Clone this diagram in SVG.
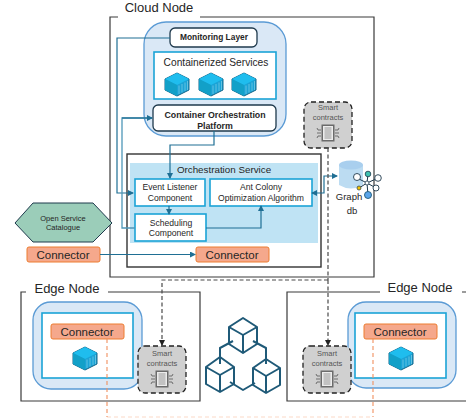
<svg xmlns="http://www.w3.org/2000/svg" width="466" height="418" viewBox="0 0 466 418">
<style>
text{font-family:"Liberation Sans",Arial,sans-serif;fill:#262626;text-anchor:middle}
.frame{fill:none;stroke:#3a3a3a;stroke-width:1.2}
.title{font-size:13px}
.halo{fill:#dae8f6;stroke:#5b9bd5;stroke-width:1.3}
.svc{fill:#fff;stroke:#1ba3d6;stroke-width:1.6}
.blk{fill:#fff;stroke:#1f3a4d;stroke-width:1.3}
.b{font-size:8.800px;font-weight:bold}
.s{font-size:8.600px}
.conn{fill:#f5a88c;stroke:#ed7d31;stroke-width:1}
.ct{font-size:11.500px}
.sc{fill:#d0d0d0;stroke:#222;stroke-width:1.3;stroke-dasharray:5 3}
.st{font-size:7.500px;fill:#555}
.wire{fill:none;stroke:#1f6f94;stroke-width:1.2}
.wire2{fill:none;stroke:#4f97b8;stroke-width:1.3}
.dash{fill:none;stroke:#4a4a4a;stroke-width:1.2;stroke-dasharray:4 2.500}
.odash{fill:none;stroke:#f0905f;stroke-width:1.1;stroke-dasharray:4 3}
.bc{fill:none;stroke:#1f5a78;stroke-width:2;stroke-linejoin:round}
</style>
<defs>
<marker id="a" markerWidth="6" markerHeight="6" refX="5" refY="3" orient="auto-start-reverse" markerUnits="userSpaceOnUse"><path d="M0 0L6 3L0 6z" fill="#1f6f94"/></marker>
<marker id="k" markerWidth="6" markerHeight="6" refX="5" refY="3" orient="auto" markerUnits="userSpaceOnUse"><path d="M0 0L6 3L0 6z" fill="#222"/></marker>
<g id="cube">
<path d="M0-11L12-5V6L0 12L-12 6V-5z" fill="#1ba3d6" stroke="#17678a" stroke-width="1"/>
<path d="M0-11L12-5L0 1L-12-5z" fill="#1fbdee"/>
<path d="M0 1V12L-12 6V-5z" fill="#12a0c8"/>
<path d="M2 1.500V10M5 0V8.500M8-1.500V7M10.500-3V6" stroke="#7fd0e6" stroke-width=".7" fill="none"/>
</g>
<g id="chip">
<rect x="-6.500" y="-8.500" width="13" height="17" fill="#6b6b6b"/>
<rect x="-5" y="-7" width="10" height="14" fill="#ececec"/>
<path d="M-3.500-5H3.500M-3.500-3H3.500M-3.500-1H3.500M-3.500 1H3.500M-3.500 3H3.500M-3.500 5H3.500" stroke="#777" stroke-width=".7"/>
<path d="M-7-3H-10L-11-5M-7 0H-11M-7 3H-10L-11 5M7-3H10L11-5M7 0H11M7 3H10L11 5" stroke="#555" stroke-width=".8" fill="none"/>
</g>
</defs>

<g id="frames">
<path class="frame" d="M118 17H110V277H374V17H200"/>
<path class="frame" d="M26 292H21V401H200V292H108"/>
<path class="frame" d="M380 292H287V401H466M462 292H466"/>
</g>

<g id="cloud-node"><text class="title" x="159" y="12">Cloud Node</text></g>
<g id="edge-node-left"><text class="title" x="67" y="293">Edge Node</text></g>
<g id="edge-node-right"><text class="title" x="420" y="292">Edge Node</text></g>

<g id="cloud-stack">
<rect class="halo" x="144" y="22" width="142" height="114" rx="22"/>
</g>
<g id="monitoring-layer"><rect class="blk" x="170" y="28" width="87" height="19" rx="5"/><text class="b" x="214" y="40" style="font-size:8.400px">Monitoring Layer</text></g>
<g id="containerized-services">
<rect class="svc" x="154" y="52" width="122" height="47"/>
<text x="216" y="66" font-size="10.200">Containerized Services</text>
<use href="#cube" x="177" y="84"/><use href="#cube" x="211" y="84"/><use href="#cube" x="244" y="84"/>
</g>
<g id="container-orchestration"><rect class="blk" x="153" y="105" width="123" height="26" rx="5"/><text class="b" x="215" y="118">Container Orchestration</text><text class="b" x="215" y="129">Platform</text></g>

<g id="orchestration-service">
<rect x="127" y="154" width="194" height="113" fill="#fff" stroke="#333" stroke-width="1.400"/>
<rect x="130" y="163" width="188" height="80" fill="#bfe3f4"/>
<text x="224" y="173" font-size="9.800">Orchestration Service</text>
</g>
<g id="event-listener"><rect class="svc" x="135" y="179" width="70" height="27"/><text class="s" x="170" y="190">Event Listener</text><text class="s" x="170" y="201">Component</text></g>
<g id="ant-colony"><rect class="svc" x="210" y="179" width="102" height="27"/><text class="s" x="261" y="190">Ant Colony</text><text class="s" x="261" y="201">Optimization Algorithm</text></g>
<g id="scheduling"><rect class="svc" x="135" y="214" width="71" height="27"/><text class="s" x="171" y="226">Scheduling</text><text class="s" x="171" y="236">Component</text></g>
<g id="catalogue"><path d="M15 223L33 203H93L112 223L93 242H33z" fill="#9bcdb9" stroke="#1f3a4d" stroke-width="1"/><text font-size="7.500" x="63" y="221">Open Service</text><text font-size="7.500" x="63" y="230">Catalogue</text></g>
<g id="connector-a"><rect class="conn" x="27" y="247" width="73" height="15" rx="2"/><text class="ct" x="63" y="259">Connector</text></g>
<g id="connector-b"><rect class="conn" x="196" y="247" width="73" height="15" rx="2"/><text class="ct" x="232" y="259">Connector</text></g>

<g id="smart-top"><rect class="sc" x="304" y="102" width="48" height="46" rx="7"/><text class="st" x="328" y="110">Smart</text><text class="st" x="328" y="120">contracts</text><use href="#chip" x="328" y="133"/></g>
<g id="graph-db">
<path d="M339 165V185Q351 192 363 185V165z" fill="#bcdcf2"/>
<ellipse cx="351" cy="165" rx="12" ry="4.500" fill="#a9cfee"/>
<path d="M367 183L357 178M367 183L368 174M367 183L378 178M367 183L376 188M367 183L359 188M367 183L368 195" stroke="#1f3a4d" stroke-width="1"/>
<circle cx="367" cy="183" r="2" fill="#fff" stroke="#1f3a4d" stroke-width=".8"/>
<circle cx="357" cy="177" r="3.500" fill="#fff" stroke="#1f3a4d" stroke-width=".9"/>
<circle cx="368" cy="174" r="2.800" fill="#3fc1b0" stroke="#1f3a4d" stroke-width=".8"/>
<circle cx="378" cy="178" r="3.300" fill="#fff" stroke="#1f3a4d" stroke-width=".9"/>
<circle cx="376" cy="188" r="3" fill="#fff" stroke="#1f3a4d" stroke-width=".9"/>
<circle cx="359" cy="188" r="2" fill="#f2c200" stroke="#1f3a4d" stroke-width=".7"/>
<circle cx="368" cy="195" r="3.500" fill="#5aa5ea" stroke="#1f5a78" stroke-width=".9"/>
<text font-size="9.500" x="349" y="200">Graph</text><text font-size="9.500" x="352" y="214">db</text>
</g>

<g id="edge-left-stack">
<rect class="halo" x="33" y="302" width="109" height="87" rx="18"/>
<rect class="svc" x="42" y="313" width="91" height="65"/>
<use href="#cube" x="85" y="358"/>
</g>
<g id="connector-c"><rect class="conn" x="51" y="324" width="73" height="15" rx="2"/><text class="ct" x="87" y="336">Connector</text></g>
<g id="edge-right-stack">
<rect class="halo" x="348" y="302" width="108" height="86" rx="18"/>
<rect class="svc" x="355" y="313" width="91" height="65"/>
<use href="#cube" x="401" y="358"/>
</g>
<g id="connector-d"><rect class="conn" x="364" y="324" width="73" height="15" rx="2"/><text class="ct" x="400" y="336">Connector</text></g>
<g id="smart-left"><rect class="sc" x="138" y="346" width="48" height="47" rx="7"/><text class="st" x="162" y="356">Smart</text><text class="st" x="162" y="366">contracts</text><use href="#chip" x="162" y="379"/></g>
<g id="smart-right"><rect class="sc" x="303" y="346" width="48" height="47" rx="7"/><text class="st" x="327" y="356">Smart</text><text class="st" x="327" y="366">contracts</text><use href="#chip" x="327" y="379"/></g>

<g id="blockchain">
<path class="bc" d="M243 318L257 327V344L243 353L229 344V327zM229 327L243 335L257 327M243 335V353"/>
<path class="bc" d="M220 357L234 367V384L220 392L206 384V367zM206 367L220 375L234 367M220 375V392"/>
<path class="bc" d="M266 359L280 368V385L266 393L253 385V368zM253 368L266 376L280 368M266 376V393"/>
<path class="bc" d="M233 341L220 348V364M253 341L266 348V364M230 382L243 390L255 383"/>
</g>

<g id="connectors">
<path class="wire" d="M170 38H117V193H133" marker-end="url(#a)"/>
<path class="wire2" d="M135 228H122V118H152"/>
<path class="wire" d="M122 118H152" marker-end="url(#a)"/>
<path class="wire" d="M214 131V145H170V178" marker-end="url(#a)"/>
<path class="wire" d="M169 206V214" marker-end="url(#a)"/>
<path class="wire" d="M206 228H261V206" marker-end="url(#a)"/>
<path class="wire" d="M100 254.500H195" marker-end="url(#a)"/>
<path class="wire" d="M312 193H324V176H337" marker-start="url(#a)" marker-end="url(#a)"/>
<path class="dash" d="M328 148V280"/>
<path class="dash" d="M328 280H162V345" marker-end="url(#k)"/>
<path class="dash" d="M328 280V345" marker-end="url(#k)"/>
<path class="odash" d="M107 339V417"/>
<path class="odash" d="M373 339V417"/>
<path class="odash" d="M107 417H373" opacity=".35"/>
</g>
</svg>
